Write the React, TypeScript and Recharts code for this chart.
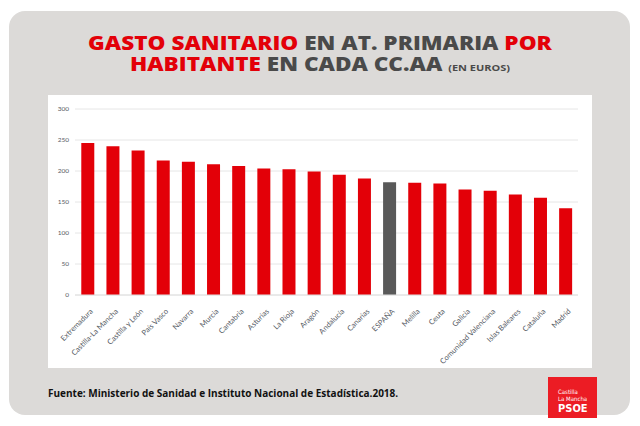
import React from "react";
import { BarChart, Bar, XAxis, YAxis, CartesianGrid, Cell } from "recharts";

const categories = [
  "Extremadura", "Castilla-La Mancha", "Castilla y León", "País Vasco", "Navarra",
  "Murcia", "Cantabria", "Asturias", "La Rioja", "Aragón", "Andalucía", "Canarias",
  "ESPAÑA", "Melilla", "Ceuta", "Galicia", "Comunidad Valenciana", "Islas Baleares",
  "Cataluña", "Madrid",
];
const gasto = [
  245, 240, 233, 217, 215, 211, 208, 204, 203, 199, 194, 188,
  182, 181, 180, 170, 168, 162, 157, 140,
];
const yTicks = [0, 50, 100, 150, 200, 250, 300];
const highlight = "ESPAÑA";

const data = categories.map((c, i) => ({ name: c, value: gasto[i] }));

const RED = "#e30008";
const DARK = "#4a4a4a";

const XTick = (props: any) => {
  const { x, y, payload } = props;
  return (
    <g transform={`translate(${x + 3},${y + 6})`}>
      <text
        transform="rotate(-45)"
        textAnchor="end"
        fontSize={7.5}
        fill="#555a63"
        fontFamily="Lato, 'Open Sans', sans-serif"
        dy={4}
      >
        {payload.value}
      </text>
    </g>
  );
};

const titleStyle: React.CSSProperties = {
  position: "absolute",
  left: 0,
  width: 640,
  height: 20,
  textAlign: "center",
  fontWeight: 800,
  fontSize: 18.5,
  lineHeight: "20px",
  color: DARK,
  whiteSpace: "nowrap",
  transform: "scaleX(1.22)",
  transformOrigin: "320px 10px",
};

export default function App() {
  return (
    <div
      style={{
        position: "relative",
        width: 640,
        height: 426,
        margin: -8,
        background: "#ffffff",
        overflow: "hidden",
        fontFamily: "'Open Sans', sans-serif",
      }}
    >
      <div
        style={{
          position: "absolute",
          left: 9,
          top: 11,
          width: 621,
          height: 404,
          borderRadius: 16,
          background: "#dcdad8",
        }}
      />
      <div style={{ ...titleStyle, top: 33 }}>
        <span style={{ color: RED }}>GASTO SANITARIO</span> EN AT. PRIMARIA{" "}
        <span style={{ color: RED }}>POR</span>
      </div>
      <div style={{ ...titleStyle, top: 54 }}>
        <span style={{ color: RED }}>HABITANTE</span> EN CADA CC.AA{" "}
        <span style={{ fontSize: 9, fontWeight: 700 }}>(EN EUROS)</span>
      </div>
      <div
        style={{
          position: "absolute",
          left: 48,
          top: 95,
          width: 544,
          height: 273,
          background: "#ffffff",
        }}
      >
        <BarChart
          width={544}
          height={273}
          data={data}
          margin={{ top: 14, right: 14, bottom: 0, left: 0 }}
          barCategoryGap="25%"
        >
          <CartesianGrid vertical={false} stroke="#e6e6e6" />
          <XAxis
            dataKey="name"
            interval={0}
            height={73}
            tickLine={false}
            axisLine={{ stroke: "#e0e0e0" }}
            tick={<XTick />}
          />
          <YAxis
            width={27}
            domain={[0, 300]}
            ticks={yTicks}
            tickLine={false}
            axisLine={false}
            tickSize={0}
            tickMargin={6}
            tick={{ fontSize: 6.5, fill: "#555a63", fontFamily: "Lato, sans-serif" }}
          />
          <Bar dataKey="value" isAnimationActive={false}>
            {data.map((d) => (
              <Cell key={d.name} fill={d.name === highlight ? "#595959" : RED} />
            ))}
          </Bar>
        </BarChart>
      </div>
      <div
        style={{
          position: "absolute",
          left: 48,
          top: 386,
          fontSize: 10,
          fontWeight: 700,
          color: "#111",
          whiteSpace: "nowrap",
        }}
      >
        Fuente: Ministerio de Sanidad e Instituto Nacional de Estadística.2018.
      </div>
      <div
        style={{
          position: "absolute",
          left: 548,
          top: 377,
          width: 49,
          height: 49,
          background: "#ec1c24",
          color: "#fff",
          fontFamily: "'DejaVu Sans Condensed', 'Liberation Sans Narrow', sans-serif",
        }}
      >
        <div style={{ position: "absolute", left: 10, top: 11, fontSize: 6, lineHeight: "7px" }}>
          Castilla
          <br />
          La Mancha
        </div>
        <div
          style={{
            position: "absolute",
            left: 10,
            top: 26,
            fontSize: 11,
            fontWeight: 700,
            lineHeight: "11px",
          }}
        >
          PSOE
        </div>
      </div>
    </div>
  );
}
